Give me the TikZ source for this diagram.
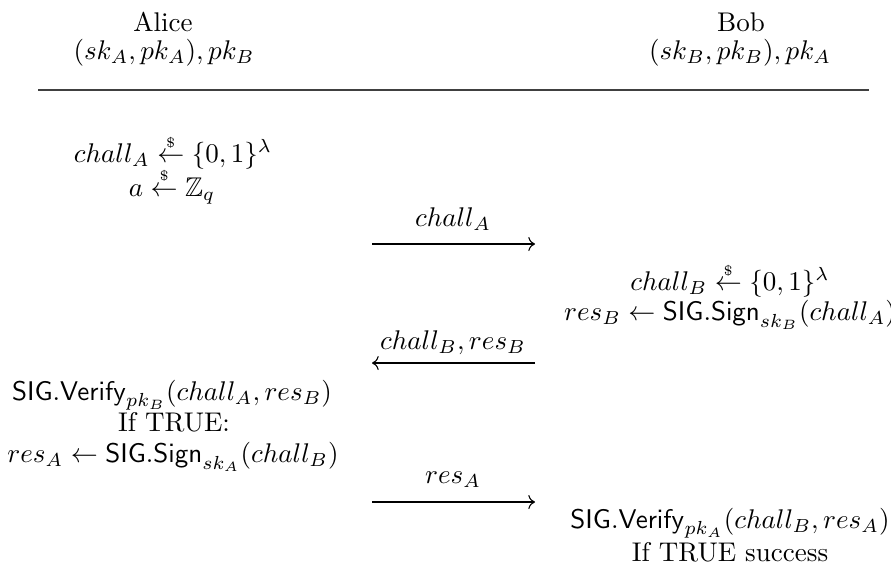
\documentclass[tikz,border=0pt]{standalone}
\usepackage{amsmath,amssymb}
\usetikzlibrary{arrows.meta}
\newcommand{\rnd}{\mathrel{\overset{\scriptscriptstyle\$}{\leftarrow}}}
\begin{document}
\begin{tikzpicture}[x=0.37pt,y=-0.37pt,
  txt/.style={inner sep=0pt, anchor=center},
  msg/.style={-{Computer Modern Rightarrow}, line width=0.4pt}]
\useasboundingbox (0,0) rectangle (891,573);
% headers
\node[txt] (alice) at (163,22) {Alice};
\node[txt] (akeys) at (164,53) {$(sk_A, pk_A), pk_B$};
\node[txt] (bob) at (741,22) {Bob};
\node[txt] (bkeys) at (740,53) {$(sk_B, pk_B), pk_A$};
\coordinate (rl) at (38,90);
\coordinate (rr) at (869,90);
\draw[line width=0.4pt, black!75] (rl) -- (rr);
% Alice step 1
\node[txt] (a1) at (173,152) {$chall_A \rnd \{0,1\}^\lambda$};
\node[txt] (a2) at (172,186) {$a \rnd \mathbb{Z}_q$};
% message 1
\coordinate (m1s) at (372,244);
\coordinate (m1e) at (535,244);
\draw[msg] (m1s) -- (m1e);
\node[txt] (l1) at (453,219) {$chall_A$};
% Bob step
\node[txt] (b1) at (730,280) {$chall_B \rnd \{0,1\}^\lambda$};
\node[txt] (b2) at (730,315) {$res_B \leftarrow \mathsf{SIG.Sign}_{sk_B}(chall_A)$};
% message 2
\coordinate (m2s) at (535,363);
\coordinate (m2e) at (372,363);
\draw[msg] (m2s) -- (m2e);
\node[txt] (l2) at (453,343) {$chall_B, res_B$};
% Alice verify
\node[txt] (a3) at (172,395) {$\mathsf{SIG.Verify}_{pk_B}(chall_A, res_B)$};
\node[txt] (a4) at (174,422) {If TRUE:};
\node[txt] (a5) at (173,457) {$res_A \leftarrow \mathsf{SIG.Sign}_{sk_A}(chall_B)$};
% message 3
\coordinate (m3s) at (372,502);
\coordinate (m3e) at (535,502);
\draw[msg] (m3s) -- (m3e);
\node[txt] (l3) at (453,480) {$res_A$};
% Bob verify
\node[txt] (b3) at (730,523) {$\mathsf{SIG.Verify}_{pk_A}(chall_B, res_A)$};
\node[txt] (b4) at (730,552) {If TRUE success};
\end{tikzpicture}
\end{document}
